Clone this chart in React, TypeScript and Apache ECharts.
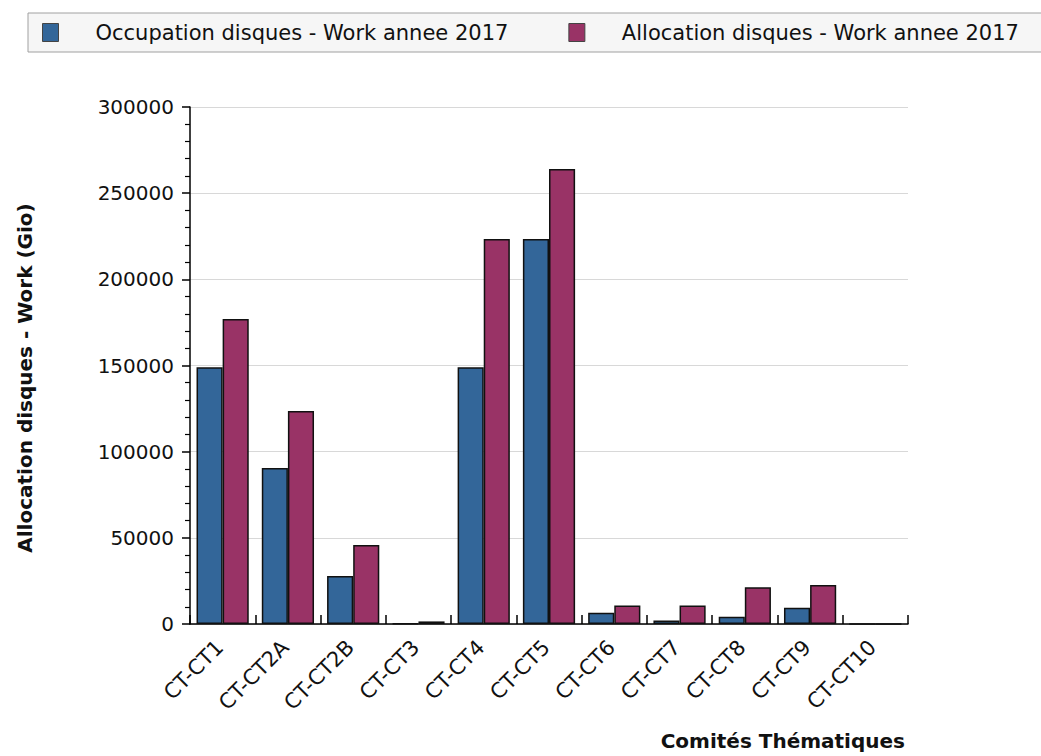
import React, { useEffect, useRef } from "react";
import * as echarts from "echarts";

const categories = ["CT-CT1", "CT-CT2A", "CT-CT2B", "CT-CT3", "CT-CT4", "CT-CT5", "CT-CT6", "CT-CT7", "CT-CT8", "CT-CT9", "CT-CT10"];
const occupation = [149000, 90500, 27900, 300, 149000, 223400, 6500, 2100, 4200, 9500, 0];
const allocation = [177000, 123600, 45800, 1500, 223400, 264000, 10800, 10800, 21300, 22600, 0];
const seriesNames = ["Occupation disques - Work annee 2017", "Allocation disques - Work annee 2017"];
const yTicks = { min: 0, max: 300000, interval: 50000 };
const FONT = "DejaVu Sans";

export default function App() {
  const ref = useRef<HTMLDivElement>(null);
  useEffect(() => {
    if (!ref.current) return;
    const chart = echarts.init(ref.current, undefined, { renderer: "svg" });
    chart.setOption({
      animation: false,
      backgroundColor: "#ffffff",
      textStyle: { fontFamily: FONT },
      graphic: [
        {
          type: "rect",
          shape: { x: 28, y: 13, width: 1030, height: 39 },
          style: { fill: "#f6f6f6", stroke: "#a0a0a0", lineWidth: 1 },
          z: -1,
        },
        {
          type: "text",
          right: 136,
          top: 731,
          style: { text: "Comités Thématiques", font: `bold 20px '${FONT}'`, fill: "#111" },
        },
        {
          type: "text",
          x: 25,
          y: 378,
          rotation: Math.PI / 2,
          style: {
            text: "Allocation disques - Work (Gio)",
            font: `bold 20px '${FONT}'`,
            fill: "#111",
            align: "center",
            verticalAlign: "middle",
          },
        },
      ],
      legend: {
        left: 42,
        top: 22,
        padding: 0,
        itemWidth: 16,
        itemHeight: 18,
        itemGap: 60,
        icon: "rect",
        data: seriesNames,
        itemStyle: { borderColor: "#444", borderWidth: 1 },
        textStyle: { fontSize: 21, color: "#111", fontFamily: FONT, padding: [0, 0, 0, 32] },
      },
      grid: { left: 190, right: 133, top: 107, bottom: 132, containLabel: false },
      xAxis: {
        type: "category",
        data: categories,
        axisLine: { lineStyle: { color: "#000", width: 1.5 } },
        axisTick: { show: true, inside: true, length: 9, alignWithLabel: false, lineStyle: { color: "#000", width: 1.5 } },
        axisLabel: { rotate: 45, fontSize: 21, color: "#111", margin: 17, interval: 0, fontFamily: FONT, padding: [0, 4, 0, 0] },
        splitLine: { show: false },
      },
      yAxis: {
        type: "value",
        min: yTicks.min,
        max: yTicks.max,
        interval: yTicks.interval,
        axisLine: { show: true, lineStyle: { color: "#000", width: 1.5 } },
        axisTick: { show: true, length: 8, lineStyle: { color: "#000", width: 1.5 } },
        minorTick: { show: true, splitNumber: 5, length: 5, lineStyle: { color: "#000", width: 1.2 } },
        axisLabel: { fontSize: 20, color: "#111", margin: 16, fontFamily: FONT, formatter: (v: number) => String(v) },
        splitLine: { show: true, lineStyle: { color: "#d8d8d8", width: 1 } },
      },
      series: [
        {
          name: seriesNames[0],
          type: "bar",
          data: occupation,
          barGap: "0%",
          barCategoryGap: "20%",
          itemStyle: { color: "#336699", borderColor: "#111", borderWidth: 1.5 },
        },
        {
          name: seriesNames[1],
          type: "bar",
          data: allocation,
          barGap: "0%",
          barCategoryGap: "20%",
          itemStyle: { color: "#993366", borderColor: "#111", borderWidth: 1.5 },
        },
      ],
    });
    return () => chart.dispose();
  }, []);
  return <div ref={ref} style={{ width: 1041, height: 756, position: "absolute", left: 0, top: 0 }} />;
}
